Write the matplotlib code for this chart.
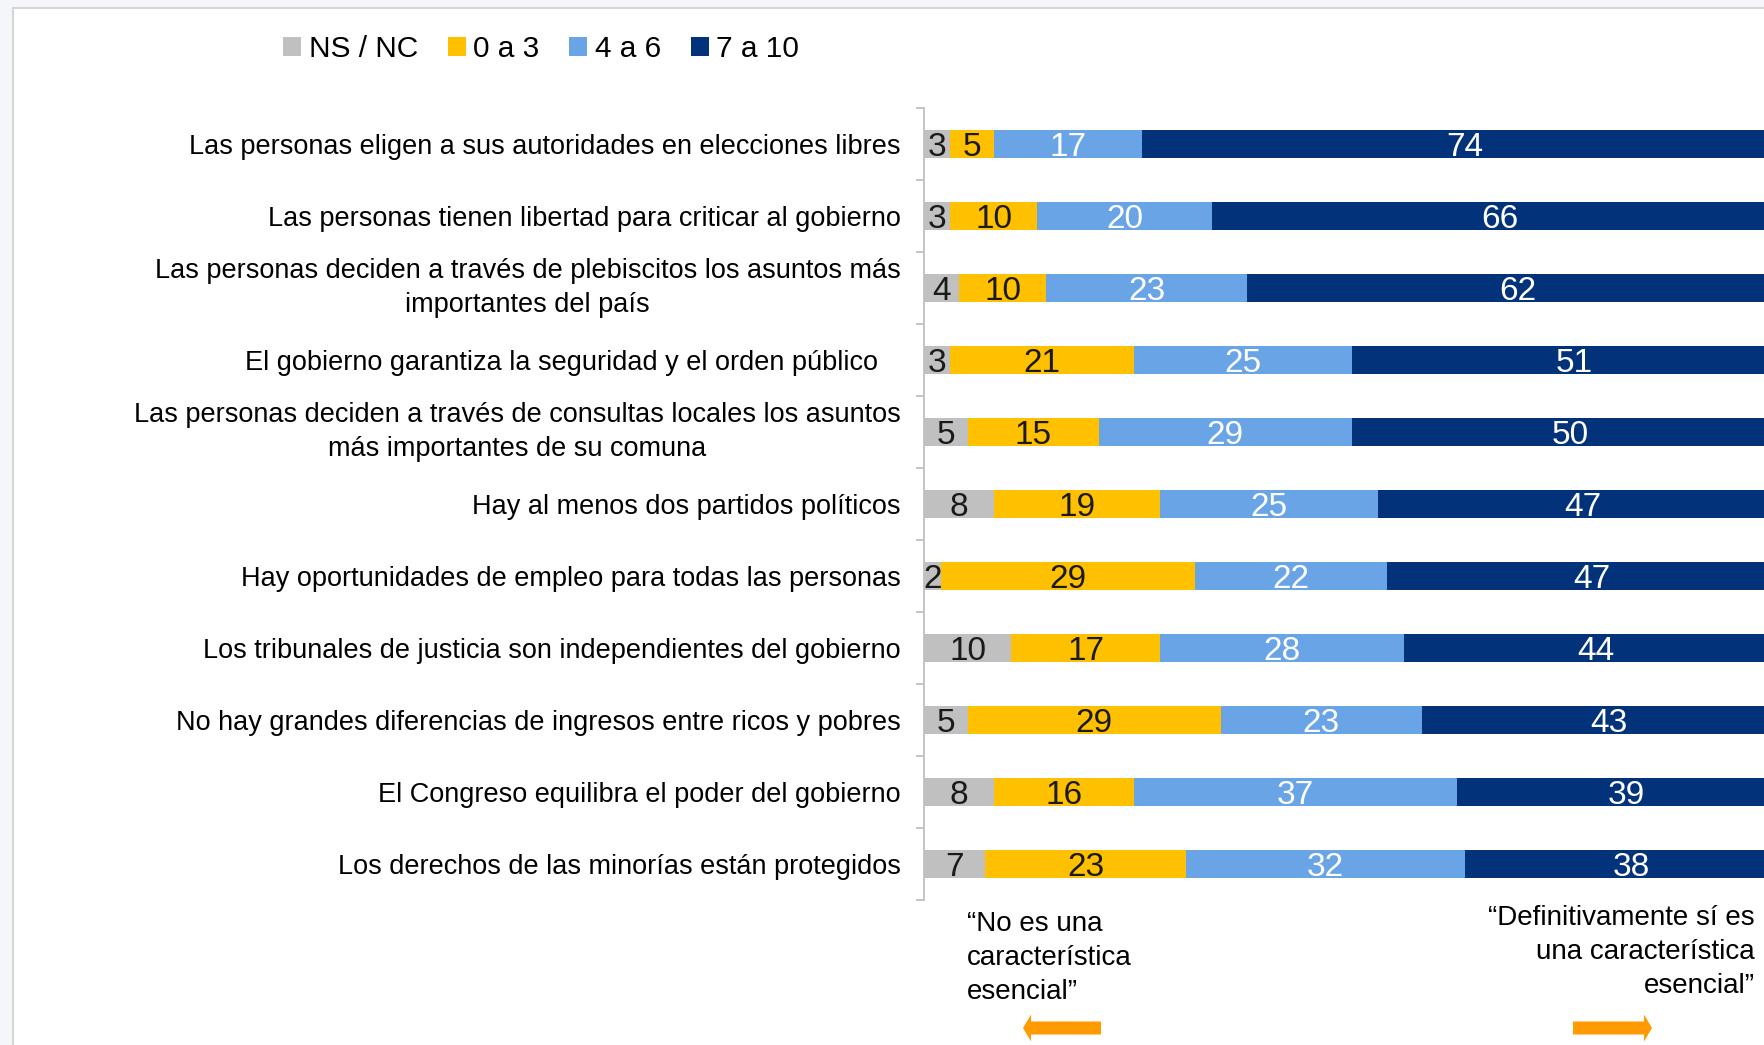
import matplotlib
matplotlib.use("Agg")
import matplotlib.pyplot as plt
import matplotlib.patches as mpatches
import numpy as np

plt.rcParams['font.family'] = ['Liberation Sans', 'DejaVu Sans']

categories = [
    "Las personas eligen a sus autoridades en elecciones libres",
    "Las personas tienen libertad para criticar al gobierno",
    "Las personas deciden a través de plebiscitos los asuntos más\nimportantes del país",
    "El gobierno garantiza la seguridad y el orden público   ",
    "Las personas deciden a través de consultas locales los asuntos\nmás importantes de su comuna",
    "Hay al menos dos partidos políticos",
    "Hay oportunidades de empleo para todas las personas",
    "Los tribunales de justicia son independientes del gobierno",
    "No hay grandes diferencias de ingresos entre ricos y pobres",
    "El Congreso equilibra el poder del gobierno",
    "Los derechos de las minorías están protegidos",
]
series_names = ["NS / NC", "0 a 3", "4 a 6", "7 a 10"]
ns_nc = [3, 3, 4, 3, 5, 8, 2, 10, 5, 8, 7]
low = [5, 10, 10, 21, 15, 19, 29, 17, 29, 16, 23]
mid = [17, 20, 23, 25, 29, 25, 22, 28, 23, 37, 32]
high = [74, 66, 62, 51, 50, 47, 47, 44, 43, 39, 38]
note_left = "\u201cNo es una\ncaracterística\nesencial\u201d"
note_right = "\u201cDefinitivamente sí es\nuna característica\nesencial\u201d"

colors = ["#C0C0C0", "#FFC000", "#69A5E6", "#02327A"]
label_colors = ["#1a1a1a", "#1a1a1a", "white", "white"]

W, H = 1764, 1045
fig = plt.figure(figsize=(W / 100, H / 100), dpi=100)
fig.patch.set_facecolor("#F5F6FA")

# white panel with light border
panel = mpatches.Rectangle((12.5 / W, -0.1), 1.2, 1 - 8.5 / H + 0.1,
                           transform=fig.transFigure, facecolor="white",
                           edgecolor="#D6D6D6", linewidth=1.5, zorder=0)
fig.add_artist(panel)

left_px, right_px = 924, 1797
top_px, bot_px = 108, 900
ax = fig.add_axes([left_px / W, 1 - bot_px / H, (right_px - left_px) / W, (bot_px - top_px) / H])
ax.set_facecolor("none")

y = np.arange(len(categories))
data = [ns_nc, low, mid, high]
left = np.zeros(len(categories))
handles = []
for vals, name, c, lc in zip(data, series_names, colors, label_colors):
    vals = np.array(vals, dtype=float)
    bars = ax.barh(y, vals, left=left, height=0.39, color=c, label=name, zorder=2)
    anns = ax.bar_label(bars, labels=[f"{int(v)}" for v in vals], label_type="center",
                        color=lc, fontsize=24)
    for a in anns:
        a.set_va("center_baseline")
    handles.append(bars)
    left += vals

ax.set_xlim(0, 100)
ax.set_ylim(len(categories) - 0.5, -0.5)
ax.set_xticks([])
for s in ["top", "right", "bottom"]:
    ax.spines[s].set_visible(False)
ax.spines["left"].set_color("#BFBFBF")
ax.spines["left"].set_linewidth(1.3)

ax.set_yticks(np.arange(-0.5, len(categories), 1.0))
ax.set_yticklabels([])
ax.tick_params(axis="y", which="major", length=6, width=1.3, color="#BFBFBF", direction="out")
ax.set_yticks(y, minor=True)
ax.set_yticklabels(categories, minor=True, fontsize=19.5, color="black")
ax.tick_params(axis="y", which="minor", length=0, pad=17)
for t in ax.get_yticklabels(minor=True):
    t.set_multialignment("center")
    t.set_linespacing(1.4)
    if "\n" in t.get_text():
        t.set_va("center")

leg = fig.legend(handles=handles, labels=series_names, loc="center",
                 bbox_to_anchor=(541 / W, 1 - 49 / H), ncol=4, frameon=False,
                 fontsize=21.5, handlelength=0.6, handleheight=0.6,
                 handletextpad=0.25, columnspacing=1.0, borderaxespad=0)

fig.text(967 / W, 1 - 958 / H, note_left, ha="left", va="center",
         fontsize=20, linespacing=1.38, color="black")
fig.text(1755 / W, 1 - 952 / H, note_right, ha="right", va="center",
         fontsize=20, linespacing=1.38, color="black", multialignment="right")

tr = fig.dpi_scale_trans
arrow_y = (H - 1028) / 100
fig.add_artist(mpatches.FancyArrow(1101 / 100, arrow_y, -78 / 100, 0, width=13 / 100,
                                   head_width=27 / 100, head_length=8 / 100,
                                   length_includes_head=True, transform=tr,
                                   color="#FF9A00", linewidth=0))
fig.add_artist(mpatches.FancyArrow(1573 / 100, arrow_y, 79 / 100, 0, width=13 / 100,
                                   head_width=27 / 100, head_length=8 / 100,
                                   length_includes_head=True, transform=tr,
                                   color="#FF9A00", linewidth=0))

fig.savefig("out.png", dpi=100, facecolor=fig.get_facecolor())
